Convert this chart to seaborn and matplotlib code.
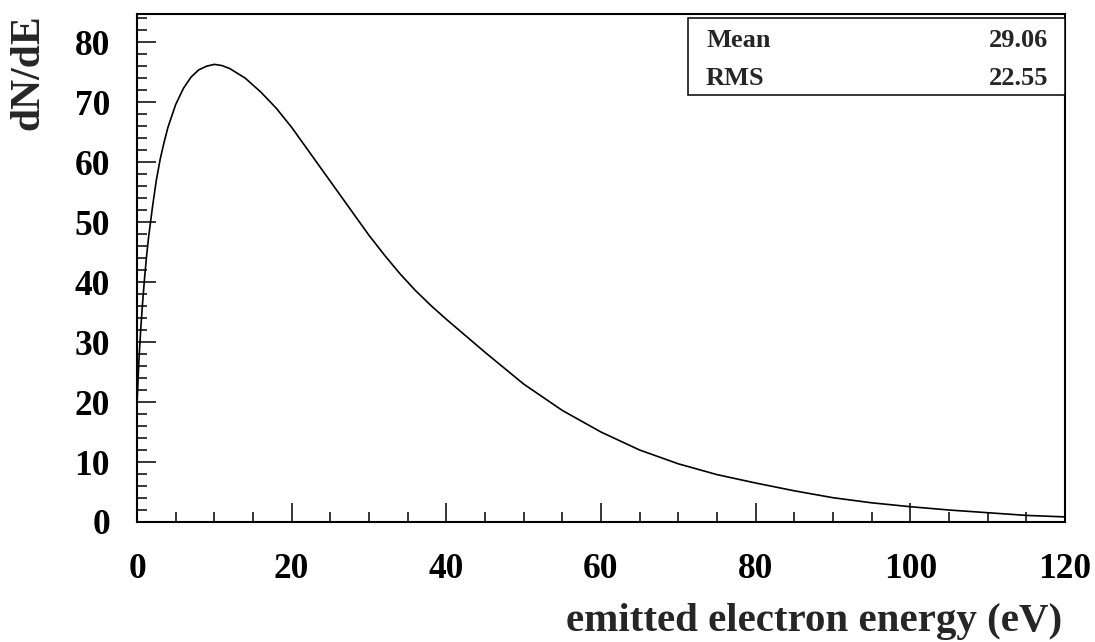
import numpy as np
import pandas as pd
import matplotlib
matplotlib.use('Agg')
import matplotlib.pyplot as plt
from matplotlib.ticker import MultipleLocator
import seaborn as sns

# values
energy = [0.0, 0.25, 0.5, 0.75, 1.0, 1.25, 1.5, 2.0, 2.5, 3.0, 3.5, 4.0,
          5.0, 6.0, 7.0, 8.0, 9.0, 10.0, 11.0, 12.0, 14.0, 16.0, 18.0,
          20.0, 22.0, 24.0, 26.0, 28.0, 30.0, 32.0, 34.0, 36.0, 38.0,
          40.0, 45.0, 50.0, 55.0, 60.0, 65.0, 70.0, 75.0, 80.0, 85.0,
          90.0, 95.0, 100.0, 105.0, 110.0, 115.0, 120.0]
dnde = [19.5, 27.0, 32.5, 37.0, 41.0, 44.5, 47.5, 52.5, 57.0, 60.5, 63.3, 65.8,
        69.6, 72.3, 74.2, 75.4, 76.0, 76.3, 76.1, 75.6, 74.0, 71.7, 69.0,
        65.8, 62.2, 58.6, 55.0, 51.4, 47.8, 44.5, 41.4, 38.6, 36.1,
        33.8, 28.3, 23.0, 18.6, 15.0, 12.0, 9.7, 7.9, 6.5, 5.2,
        4.05, 3.2, 2.55, 2.0, 1.55, 1.1, 0.85]

stat_names = ['Mean', 'RMS']
stat_values = ['29.06', '22.55']

df = pd.DataFrame({'energy': energy, 'dnde': dnde})

sns.set_style('ticks')
plt.rcParams['font.family'] = ['Liberation Serif', 'DejaVu Serif']
plt.rcParams['font.weight'] = 'bold'

W, H = 1095, 642
fig = plt.figure(figsize=(W / 100, H / 100), dpi=100)
ax = fig.add_axes([137 / W, (H - 522) / H, (1065 - 137) / W, (522 - 14) / H])

sns.lineplot(data=df, x='energy', y='dnde', color='black', linewidth=1.2, ax=ax)

ax.set_xlim(0, 120)
ax.set_ylim(0, 84.7)
ax.xaxis.set_major_locator(MultipleLocator(20))
ax.xaxis.set_minor_locator(MultipleLocator(5))
ax.yaxis.set_major_locator(MultipleLocator(10))
ax.yaxis.set_minor_locator(MultipleLocator(2))
ax.tick_params(which='both', direction='in', width=1.1, colors='black',
               labelsize=25.5)
ax.tick_params(which='major', length=13.5)
ax.tick_params(which='minor', length=7)
ax.tick_params(axis='x', which='major', pad=22)
ax.tick_params(axis='y', which='major', pad=19.5)
for lab in ax.get_xticklabels() + ax.get_yticklabels():
    lab.set_fontweight('bold')
for sp in ax.spines.values():
    sp.set_linewidth(1.5)
    sp.set_color('black')
ax.set_xlabel('')
ax.set_ylabel('')

fig.text(1062 / W, (H - 631) / H, 'emitted electron energy (eV)', ha='right',
         va='baseline', fontsize=29.5, fontweight='bold')
fig.text(28 / W, (H - 72) / H, 'dN/dE', rotation=90, ha='center', va='center',
         fontsize=30, fontweight='bold')

# stats box
bx0, bx1, by0, by1 = 688, 1065, 18, 95
box = plt.Rectangle((bx0 / W, (H - by1) / H), (bx1 - bx0) / W, (by1 - by0) / H,
                    transform=fig.transFigure, facecolor='white',
                    edgecolor='black', linewidth=1.1, zorder=5)
fig.add_artist(box)
for name, val, base in zip(stat_names, stat_values, [47, 85]):
    fig.text(706 / W, (H - base) / H, name, ha='left', va='baseline',
             fontsize=19, fontweight='bold', zorder=6)
    fig.text(1048 / W, (H - base) / H, val, ha='right', va='baseline',
             fontsize=19, fontweight='bold', zorder=6)

fig.savefig('out.png', dpi=100)
